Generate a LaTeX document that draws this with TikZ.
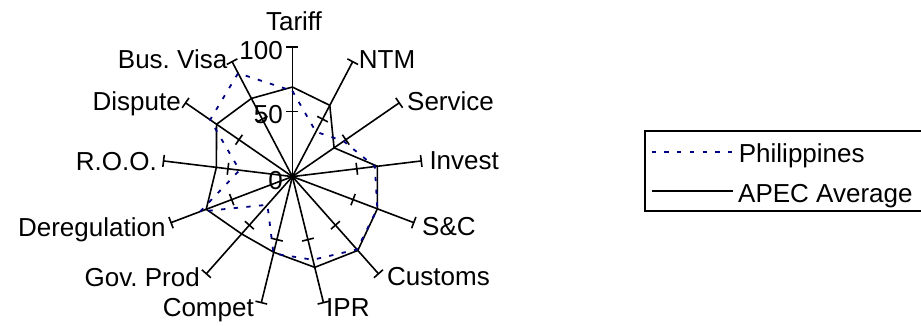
\documentclass[tikz,border=0pt]{standalone}
\usepackage{fontspec}
\setmainfont{Liberation Sans}
\frenchspacing
\definecolor{philblue}{RGB}{0,0,128}
\begin{document}
\begin{tikzpicture}[x=1pt,y=1pt,
  font=\fontsize{26}{30}\selectfont,
  axisline/.style={draw=black,line width=1.6pt},
  tickline/.style={draw=black,line width=1.6pt},
  apecline/.style={draw=black,line width=1.6pt,line join=round},
  philline/.style={draw=philblue,line width=1.8pt,dash pattern=on 4.3pt off 8.4pt},
  lab/.style={inner sep=0pt,text=black},
  frameline/.style={draw=black,line width=1.8pt}]
% page area; origin at the chart centre
\useasboundingbox (-292.4,-149.4) rectangle (628.6,176.6);
\def\rad{129.8}
\coordinate (O) at (0,0);
% spokes with ticks at 50 and 100, plus the data points of both series
\foreach \k/\av/\pv [evaluate=\k as \ang using 90-\k*360/13] in
  {0/69/66, 1/62/39, 2/39/48, 3/66/64, 4/70/70, 5/76/75, 6/72/66,
   7/60/61, 8/59/29, 9/71/76, 10/59/41, 11/71/77, 12/68/90}{
  \coordinate (e\k) at (\ang:\rad);
  \coordinate (a\k) at (\ang:\av*1.298);
  \coordinate (p\k) at (\ang:\pv*1.298);
  \draw[axisline] (O) -- (e\k);
  \draw[tickline] (\ang:\rad) ++(\ang+90:6) -- ++(\ang-90:12);
  \draw[tickline] (\ang:\rad/2) ++(\ang+90:6) -- ++(\ang-90:12);
}
% APEC average (solid) and Philippines (dashed)
\draw[apecline] (a0) \foreach \k in {1,...,12}{ -- (a\k)} -- cycle;
\draw[philline] (p0) \foreach \k in {1,...,12}{ -- (p\k)} -- cycle;
% scale labels on the Tariff spoke
\node[lab,anchor=base east] (s100) at (-9.4,116.6) {100};
\node[lab,anchor=base east] (s50) at (-9.4,52.6) {50};
\node[lab,anchor=base east] (s0) at (-9.4,-13.4) {0};
% category labels
\node[lab,anchor=base] (lTariff) at (1.6,145.9) {Tariff};
\node[lab,anchor=base west] (lNTM) at (66.3,108.3) {NTM};
\node[lab,anchor=base west] (lService) at (114.6,65.6) {Service};
\node[lab,anchor=base west] (lInvest) at (136.9,7.2) {Invest};
\node[lab,anchor=base west] (lSC) at (129.6,-59.4) {S\&C};
\node[lab,anchor=base west] (lCustoms) at (94.6,-109.4) {Customs};
\node[lab,anchor=base west] (lIPR) at (33.6,-140.1) {IPR};
\node[lab,anchor=base east] (lCompet) at (-38.4,-140.1) {Compet};
\node[lab,anchor=base east] (lGov) at (-92.4,-110.1) {Gov. Prod};
\node[lab,anchor=base east] (lDereg) at (-126.7,-60.1) {Deregulation};
\node[lab,anchor=base east] (lROO) at (-135.4,5.9) {R.O.O.};
\node[lab,anchor=base east] (lDispute) at (-111.4,65.6) {Dispute};
\node[lab,anchor=base east] (lVisa) at (-64.9,108.3) {Bus. Visa};
% legend (its right side runs past the page edge)
\draw[frameline] (640,45.9) -- (352.6,45.9) -- (352.6,-34.1) -- (640,-34.1);
\coordinate (k1a) at (359.3,24.9);
\coordinate (k1b) at (440.9,24.9);
\coordinate (k2a) at (359.3,-14.4);
\coordinate (k2b) at (440.9,-14.4);
\draw[philline] (k1a) -- (k1b);
\draw[apecline] (k2a) -- (k2b);
\node[lab,anchor=base west] (tPhil) at (446.3,14.1) {Philippines};
\node[lab,anchor=base west] (tApec) at (445.6,-26.1) {APEC Average};
\end{tikzpicture}
\end{document}
